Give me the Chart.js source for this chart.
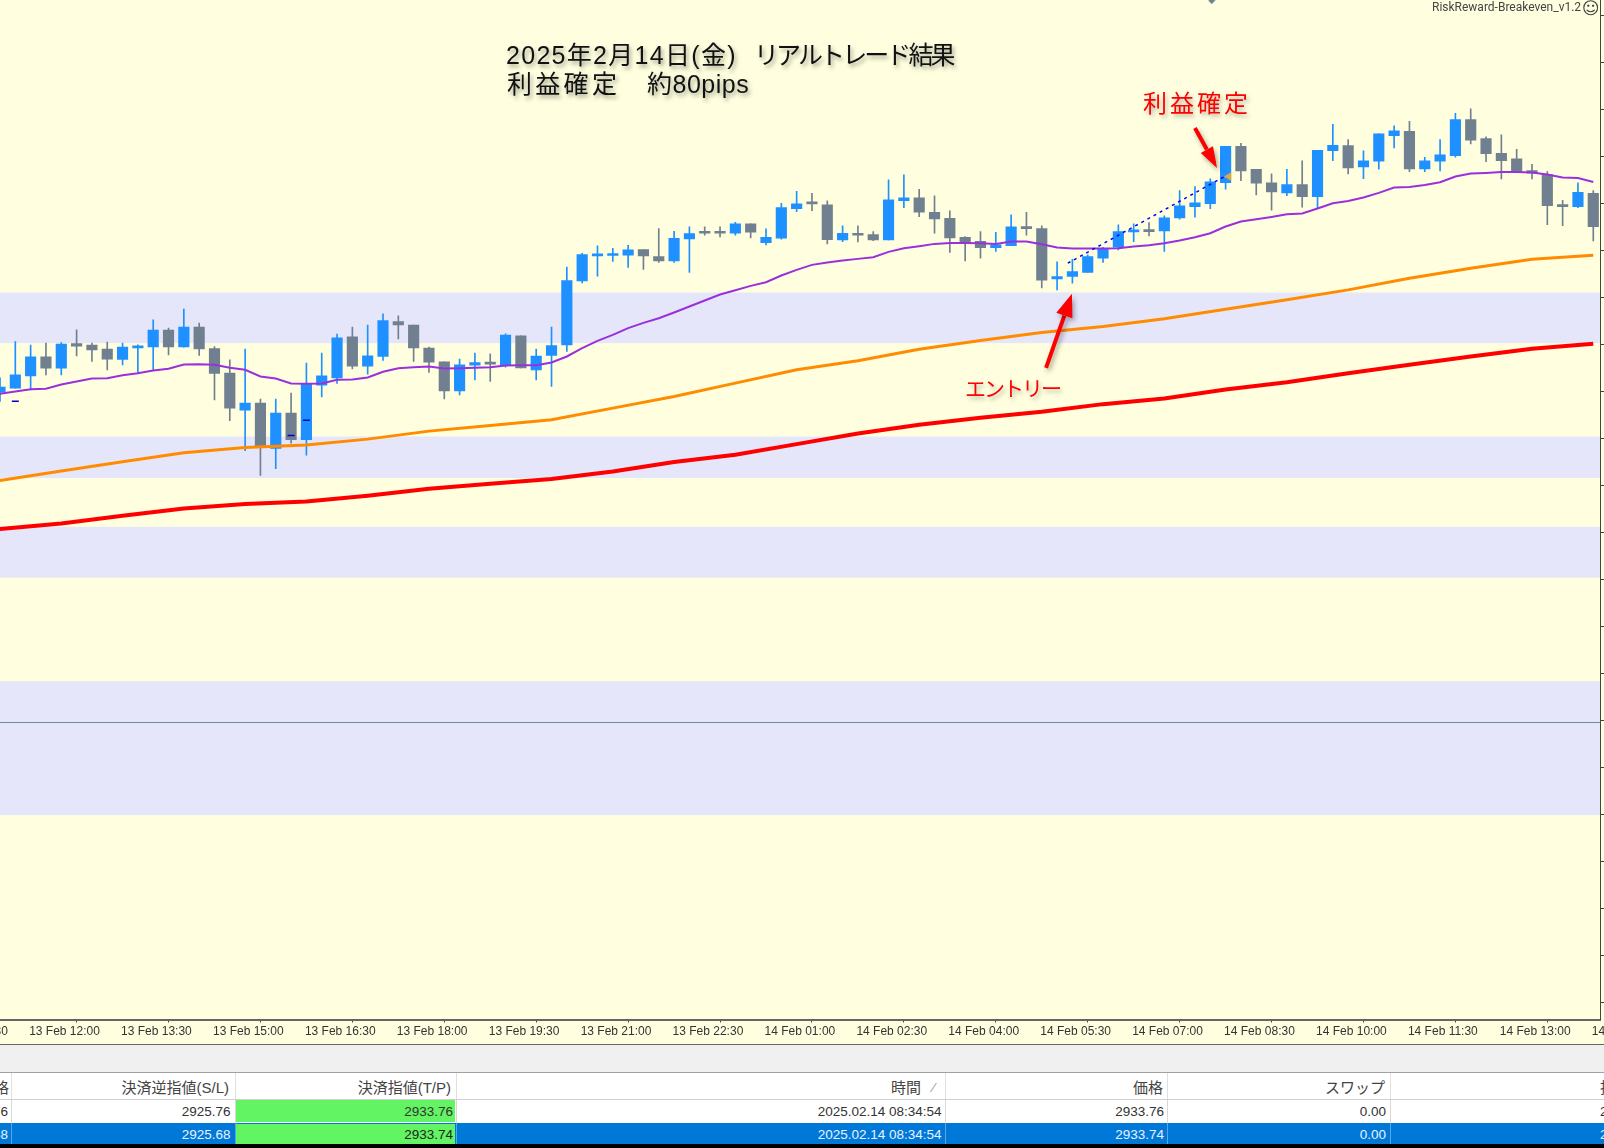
<!DOCTYPE html>
<html lang="ja">
<head>
<meta charset="utf-8">
<title>2025年2月14日 リアルトレード結果</title>
<script src="https://cdn.jsdelivr.net/npm/chart.js@4"></script>
<style>
html, body { margin: 0; width: 1604px; height: 1148px; overflow: hidden; background: #FFFFE0; }
#stage { position: absolute; left: 0; top: 0; width: 1604px; height: 1148px; overflow: hidden; }
#chart { position: absolute; left: -100px; top: 0; }
.note { position: absolute; white-space: pre; font-family: "Liberation Sans", "Noto Sans CJK JP", sans-serif; }
.title { font-size: 25px; line-height: 28px; color: #111; text-shadow: 2px 3px 4px rgba(0,0,0,.38); }
.red { color: #f00; text-shadow: 2px 3px 4px rgba(0,0,0,.3); }
#footer { position: absolute; left: 0; top: 1044px; width: 1604px; height: 104px; background: #fff; font-family: "Liberation Sans", "Noto Sans CJK JP", sans-serif; color: #333; }
.cell { position: absolute; white-space: pre; font-size: 13.5px; line-height: 22px; }
.head { font-size: 15px; }
.box { position: absolute; }
</style>
</head>
<body>
<div id="stage">
<canvas id="chart" width="1704" height="1044"></canvas>
<div class="note title" style="left:506px;top:41px;letter-spacing:1.3px">2025年2月14日(金)</div>
<div class="note title" style="left:754px;top:41px;letter-spacing:-2.9px">リアルトレード結果</div>
<div class="note title" style="left:507px;top:70px;letter-spacing:3.3px">利益確定</div>
<div class="note title" style="left:647px;top:70px;letter-spacing:.5px">約80pips</div>
<div class="note red" style="left:1143px;top:87px;font-size:24px;line-height:34px;letter-spacing:3px">利益確定</div>
<div class="note red" style="left:965px;top:373px;font-size:21px;line-height:32px;letter-spacing:-2px">エントリー</div>
<div class="note" style="left:1432px;top:0;font:12px/14px Roboto,sans-serif;color:#444">RiskReward-Breakeven_v1.2</div>
<div class="note" style="left:1582px;top:-2px;font:17px/20px 'DejaVu Sans',sans-serif;color:#444">☺</div>
<div id="footer"></div>
</div>
<script>
// 15 minute bars, bar 0 = 13 Feb 11:30
const barOpen = [
  2914.29, 2914.65, 2915.76, 2917.47, 2916.45, 2918.67, 2918.52, 2918.16, 2917.23, 2918.28,
  2918.37, 2919.87, 2918.37, 2920.14, 2918.22, 2916.00, 2912.67, 2913.30, 2909.22, 2912.40,
  2910.00, 2914.92, 2915.58, 2919.27, 2916.63, 2917.50, 2920.65, 2920.32, 2918.25, 2917.02,
  2914.41, 2916.72, 2916.96, 2916.69, 2919.36, 2916.30, 2917.59, 2918.55, 2924.31, 2926.56,
  2926.59, 2926.62, 2927.13, 2926.50, 2926.11, 2928.09, 2928.69, 2928.69, 2928.60, 2929.44,
  2927.76, 2928.15, 2930.82, 2931.33, 2931.15, 2928.00, 2928.51, 2928.48, 2928.00, 2931.54,
  2931.78, 2930.49, 2929.95, 2928.24, 2927.88, 2927.31, 2927.49, 2929.17, 2929.02, 2924.49,
  2924.70, 2925.06, 2926.35, 2927.34, 2928.72, 2928.84, 2928.81, 2929.98, 2931.00, 2931.27,
  2933.16, 2936.43, 2934.36, 2933.13, 2932.23, 2932.98, 2931.90, 2936.04, 2936.49, 2934.57,
  2935.08, 2937.39, 2937.78, 2934.39, 2935.08, 2935.59, 2938.83, 2937.12, 2935.80, 2935.29,
  2934.24, 2933.88, 2931.15, 2931.00, 2932.20
];
const barClose = [
  2914.74, 2915.85, 2917.47, 2916.45, 2918.61, 2918.43, 2918.10, 2917.26, 2918.34, 2918.43,
  2919.87, 2918.37, 2920.14, 2918.19, 2915.97, 2912.85, 2913.30, 2909.37, 2912.40, 2910.00,
  2915.04, 2915.76, 2919.18, 2916.63, 2917.56, 2920.74, 2920.35, 2918.28, 2916.99, 2914.41,
  2916.75, 2916.96, 2916.81, 2919.42, 2916.48, 2917.53, 2918.49, 2924.34, 2926.68, 2926.68,
  2926.71, 2927.10, 2926.56, 2926.11, 2928.15, 2928.57, 2928.60, 2928.60, 2929.44, 2928.69,
  2928.24, 2930.91, 2931.24, 2931.24, 2928.03, 2928.60, 2928.42, 2928.00, 2931.60, 2931.78,
  2930.49, 2929.89, 2928.18, 2927.70, 2927.31, 2927.55, 2929.17, 2929.02, 2924.37, 2924.70,
  2925.15, 2926.50, 2927.16, 2928.75, 2928.84, 2928.75, 2929.98, 2931.06, 2931.33, 2933.22,
  2936.43, 2934.21, 2933.10, 2932.32, 2932.98, 2931.90, 2936.07, 2936.52, 2934.48, 2935.11,
  2937.54, 2937.81, 2934.39, 2935.11, 2935.65, 2938.83, 2936.97, 2935.77, 2935.14, 2934.15,
  2934.00, 2931.09, 2931.00, 2932.29, 2929.20
];
const barHigh = [
  2915.58, 2918.85, 2918.52, 2918.70, 2918.76, 2919.90, 2918.70, 2918.79, 2918.70, 2918.55,
  2920.80, 2920.05, 2921.76, 2920.50, 2918.40, 2917.20, 2918.16, 2913.66, 2913.66, 2914.20,
  2916.90, 2917.80, 2919.51, 2920.14, 2920.32, 2921.34, 2921.16, 2920.32, 2918.34, 2917.02,
  2917.26, 2917.80, 2917.74, 2919.54, 2919.36, 2918.16, 2920.14, 2925.54, 2926.80, 2927.46,
  2927.25, 2927.52, 2927.13, 2929.02, 2928.78, 2929.17, 2929.17, 2929.17, 2929.59, 2929.44,
  2928.99, 2931.30, 2932.38, 2932.20, 2931.51, 2929.26, 2929.26, 2928.75, 2933.40, 2933.85,
  2932.56, 2931.96, 2930.61, 2928.30, 2928.75, 2928.69, 2930.25, 2930.49, 2929.26, 2926.02,
  2926.26, 2926.65, 2927.34, 2929.35, 2929.44, 2929.56, 2930.16, 2932.44, 2932.80, 2933.49,
  2936.43, 2936.70, 2934.36, 2933.94, 2934.36, 2935.11, 2936.07, 2938.41, 2937.03, 2936.01,
  2937.54, 2938.26, 2938.68, 2935.44, 2937.03, 2939.40, 2939.79, 2937.27, 2937.45, 2936.16,
  2934.81, 2934.15, 2931.57, 2933.13, 2932.44
];
const barLow = [
  2913.45, 2914.65, 2914.50, 2915.85, 2915.85, 2917.56, 2917.05, 2916.30, 2916.75, 2916.00,
  2916.30, 2917.65, 2918.34, 2917.59, 2913.60, 2911.71, 2909.01, 2906.79, 2907.39, 2909.70,
  2908.62, 2913.87, 2915.07, 2916.39, 2915.91, 2917.14, 2919.09, 2917.05, 2916.06, 2913.69,
  2914.05, 2915.40, 2915.25, 2916.54, 2916.48, 2915.40, 2914.80, 2917.95, 2924.13, 2924.73,
  2926.05, 2925.51, 2925.33, 2925.96, 2925.96, 2925.06, 2928.42, 2928.27, 2928.42, 2928.18,
  2927.55, 2928.06, 2930.55, 2930.64, 2927.64, 2927.85, 2927.82, 2927.94, 2928.00, 2930.91,
  2930.10, 2928.60, 2926.86, 2926.11, 2926.35, 2926.95, 2927.49, 2928.42, 2923.68, 2923.50,
  2924.10, 2925.06, 2925.96, 2927.10, 2927.85, 2928.36, 2926.95, 2929.86, 2930.04, 2930.82,
  2932.56, 2933.34, 2932.05, 2930.67, 2931.99, 2930.94, 2930.85, 2935.14, 2933.94, 2933.52,
  2934.36, 2936.28, 2934.15, 2934.15, 2934.21, 2935.44, 2936.64, 2935.05, 2933.49, 2934.15,
  2933.49, 2929.38, 2929.29, 2930.91, 2927.91
];

// fast moving average, one value per bar starting at bar -1
const purpleMA = [
  2913.96,
  2914.14, 2914.35, 2914.56, 2914.59, 2914.98, 2915.25, 2915.52, 2915.55, 2915.82, 2916.00,
  2916.24, 2916.39, 2916.78, 2916.81, 2916.75, 2916.48, 2916.30, 2915.70, 2915.52, 2915.07,
  2915.04, 2915.07, 2915.40, 2915.43, 2915.61, 2916.12, 2916.45, 2916.54, 2916.60, 2916.42,
  2916.45, 2916.48, 2916.54, 2916.69, 2916.72, 2916.72, 2916.96, 2917.50, 2918.25, 2918.91,
  2919.45, 2920.05, 2920.53, 2920.95, 2921.46, 2922.00, 2922.54, 2923.08, 2923.47, 2923.86,
  2924.19, 2924.79, 2925.30, 2925.75, 2925.96, 2926.14, 2926.29, 2926.44, 2926.92, 2927.25,
  2927.43, 2927.64, 2927.73, 2927.73, 2927.70, 2927.64, 2927.85, 2927.85, 2927.61, 2927.31,
  2927.22, 2927.22, 2927.22, 2927.25, 2927.40, 2927.52, 2927.70, 2927.94, 2928.24, 2928.60,
  2929.20, 2929.65, 2929.86, 2930.07, 2930.31, 2930.37, 2930.82, 2931.30, 2931.51, 2931.81,
  2932.23, 2932.71, 2932.77, 2932.95, 2933.19, 2933.70, 2933.97, 2934.03, 2934.12, 2934.12,
  2934.06, 2933.88, 2933.61, 2933.58, 2933.22
];
// slow averages, read every 4 bars from bar -4
const orangeMA = [
  2905.50, 2906.34, 2907.18, 2908.02, 2908.83, 2909.31, 2909.52, 2910.06, 2910.78, 2911.29,
  2911.80, 2912.85, 2913.90, 2915.10, 2916.30, 2917.11, 2918.16, 2918.94, 2919.66, 2920.20,
  2920.89, 2921.76, 2922.60, 2923.50, 2924.55, 2925.45, 2926.26, 2926.62
];
const redMA = [
  2901.27, 2901.96, 2902.47, 2903.16, 2903.82, 2904.21, 2904.45, 2904.96, 2905.59, 2906.04,
  2906.46, 2907.15, 2907.99, 2908.65, 2909.61, 2910.57, 2911.35, 2911.98, 2912.52, 2913.21,
  2913.72, 2914.53, 2915.19, 2916.00, 2916.75, 2917.50, 2918.19, 2918.64
];

// price zones (top, bottom)
const zoneTop = [2923.26, 2910.30, 2902.17, 2888.26];
const zoneBottom = [2918.70, 2906.55, 2897.58, 2876.20];
const bidLine = 2884.62;

// trade: [bar, price]
const tradeLine = [[69.7, 2925.90], [80.0, 2933.76]];
const tradeMarks = [[1, 2913.48], [19, 2910.39], [20, 2911.77]];
const exitMark = [[80.2, 2933.70]];
const topMark = [[79.1, 2949.55]];
const entryArrow = [[68.28, 2916.48], [69.97, 2923.14]];
const exitArrow = [[78.0, 2938.08], [79.44, 2934.48]];

const tickBars = [-4, 2, 8, 14, 20, 26, 32, 38, 44, 50, 56, 62, 68, 74, 80, 86, 92, 98, 104];
const tickLabels = [
  '13 Feb 10:30', '13 Feb 12:00', '13 Feb 13:30', '13 Feb 15:00', '13 Feb 16:30', '13 Feb 18:00',
  '13 Feb 19:30', '13 Feb 21:00', '13 Feb 22:30', '14 Feb 01:00', '14 Feb 02:30', '14 Feb 04:00',
  '14 Feb 05:30', '14 Feb 07:00', '14 Feb 08:30', '14 Feb 10:00', '14 Feb 11:30', '14 Feb 13:00',
  '14 Feb 14:30'
];
const priceTicks = [
  2948.16, 2943.93, 2939.70, 2935.47, 2931.24, 2927.01, 2922.78, 2918.55, 2914.32, 2910.09, 2905.86,
  2901.63, 2897.40, 2893.17, 2888.94, 2884.71, 2880.48, 2876.25, 2872.02, 2867.79, 2863.56, 2859.33
];

// table below the chart
const tableEdges = [11, 234.5, 455.5, 945, 1167, 1390];
const tableHeads = ['価格', '決済逆指値(S/L)', '決済指値(T/P)', '時間', '価格', 'スワップ'];
const headRights = [9, 229, 451, 921, 1163, 1385];
const row1 = ['2933.76', '2925.76', '2933.76', '2025.02.14 08:34:54', '2933.76', '0.00'];
const row2 = ['2933.68', '2925.68', '2933.74', '2025.02.14 08:34:54', '2933.74', '0.00'];
const cellRights = [8, 230.5, 453, 941.5, 1164, 1386];

const UP = '#1E90FF', DOWN = '#708090';
const barColor = barOpen.map((o, i) => barClose[i] >= o ? UP : DOWN);
const everyFourth = i => -4 + i * 4;

function drawArrow(ctx, scales, pts, head, half) {
  const x0 = scales.x.getPixelForValue(pts[0][0]), y0 = scales.y.getPixelForValue(pts[0][1]);
  const x1 = scales.x.getPixelForValue(pts[1][0]), y1 = scales.y.getPixelForValue(pts[1][1]);
  const a = Math.atan2(y1 - y0, x1 - x0);
  const bx = x1 - Math.cos(a) * head, by = y1 - Math.sin(a) * head;
  ctx.strokeStyle = ctx.fillStyle = '#f00';
  ctx.lineWidth = 4;
  ctx.beginPath();
  ctx.moveTo(x0, y0);
  ctx.lineTo(bx, by);
  ctx.stroke();
  ctx.beginPath();
  ctx.moveTo(x1, y1);
  ctx.lineTo(bx - Math.sin(a) * half, by + Math.cos(a) * half);
  ctx.lineTo(bx + Math.sin(a) * half, by - Math.cos(a) * half);
  ctx.closePath();
  ctx.fill();
}

const zonesPlugin = {
  id: 'zones',
  beforeDatasetsDraw(chart) {
    const { ctx, chartArea, scales } = chart;
    ctx.save();
    ctx.fillStyle = '#E6E6FA';
    zoneTop.forEach((t, i) => {
      const y0 = scales.y.getPixelForValue(t), y1 = scales.y.getPixelForValue(zoneBottom[i]);
      ctx.fillRect(chartArea.left, y0, chartArea.width, y1 - y0);
    });
    const by = Math.round(scales.y.getPixelForValue(bidLine)) + 0.5;
    ctx.strokeStyle = '#778899';
    ctx.lineWidth = 1;
    ctx.beginPath();
    ctx.moveTo(chartArea.left, by);
    ctx.lineTo(chartArea.right, by);
    ctx.stroke();
    ctx.restore();
  },
  afterDatasetsDraw(chart) {
    const { ctx, scales } = chart;
    ctx.save();
    ctx.shadowColor = 'rgba(0,0,0,.35)';
    ctx.shadowBlur = 5;
    ctx.shadowOffsetX = 2;
    ctx.shadowOffsetY = 3;
    drawArrow(ctx, scales, entryArrow, 23, 8.5);
    drawArrow(ctx, scales, exitArrow, 21, 7);
    ctx.restore();
  }
};

new Chart(document.getElementById('chart'), {
  type: 'bar',
  plugins: [zonesPlugin],
  data: {
    datasets: [
      {
        label: 'body', order: 3, grouped: false, barThickness: 10.5, minBarLength: 2,
        data: barOpen.map((o, i) => ({ x: i, y: [o, barClose[i]] })),
        backgroundColor: barColor
      },
      {
        label: 'wick', order: 4, grouped: false, barThickness: 1,
        data: barLow.map((l, i) => ({ x: i, y: [l, barHigh[i]] })),
        backgroundColor: barColor
      },
      {
        type: 'line', label: 'MA fast', order: 2, borderColor: '#9A30DD', borderWidth: 2, pointRadius: 0,
        data: purpleMA.map((v, i) => ({ x: i - 1, y: v }))
      },
      {
        type: 'line', label: 'MA mid', order: 2, borderColor: '#FF8C00', borderWidth: 3, pointRadius: 0,
        data: orangeMA.map((v, i) => ({ x: everyFourth(i), y: v }))
      },
      {
        type: 'line', label: 'MA slow', order: 2, borderColor: '#FF0000', borderWidth: 4, pointRadius: 0,
        data: redMA.map((v, i) => ({ x: everyFourth(i), y: v }))
      },
      {
        type: 'line', label: 'trade', order: 1, borderColor: '#0000FF', borderWidth: 1.5, borderDash: [3, 4], pointRadius: 0,
        data: tradeLine.map(p => ({ x: p[0], y: p[1] }))
      },
      {
        type: 'scatter', label: 'deals', order: 1, pointStyle: 'line', pointRadius: 3.5, borderColor: '#0000CD', borderWidth: 1.5,
        data: tradeMarks.map(p => ({ x: p[0], y: p[1] }))
      },
      {
        type: 'scatter', label: 'exit', order: 0, pointStyle: 'triangle', rotation: -90, pointRadius: 4,
        backgroundColor: '#E5A63B', borderColor: '#E5A63B',
        data: exitMark.map(p => ({ x: p[0], y: p[1] }))
      },
      {
        type: 'scatter', label: 'mark', order: 0, pointStyle: 'rectRot', pointRadius: 3,
        backgroundColor: '#708090', borderColor: '#708090',
        data: topMark.map(p => ({ x: p[0], y: p[1] }))
      }
    ]
  },
  options: {
    responsive: false,
    animation: false,
    events: [],
    layout: { padding: 0, autoPadding: false },
    plugins: { legend: { display: false }, tooltip: { enabled: false } },
    scales: {
      x: {
        type: 'linear',
        min: -100 / 15.32,
        max: 1600 / 15.32,
        offset: false,
        afterBuildTicks: s => { s.ticks = tickBars.map(v => ({ value: v })); },
        afterFit: s => { s.height = 24.5; s.paddingLeft = 0; s.paddingRight = 0; },
        border: { color: '#666', width: 2 },
        grid: { drawOnChartArea: false, tickLength: 3, color: '#444' },
        ticks: {
          autoSkip: false, maxRotation: 0, align: 'start', padding: 2, labelOffset: -1.5, color: '#333',
          font: { family: 'Liberation Sans', size: 12 },
          callback: v => tickLabels[tickBars.indexOf(v)]
        }
      },
      y: {
        position: 'right',
        min: 2857.8,
        max: 2949.6,
        afterBuildTicks: s => { s.ticks = priceTicks.map(v => ({ value: v })); },
        afterFit: s => { s.width = 4; s.paddingTop = 0; s.paddingBottom = 0; },
        border: { color: '#444', width: 1 },
        grid: { drawOnChartArea: false, tickLength: 4, color: '#444' },
        ticks: { display: false }
      }
    }
  }
});

// --- bottom panel, plain DOM ---
const footer = document.getElementById('footer');
function box(left, top, w, h, color) {
  const el = document.createElement('div');
  el.className = 'box';
  el.style.cssText = `left:${left}px;top:${top}px;width:${w}px;height:${h}px;background:${color}`;
  footer.appendChild(el);
}
function cell(text, right, top, color, left, cls) {
  const el = document.createElement('div');
  el.className = cls ? 'cell ' + cls : 'cell';
  el.textContent = text;
  el.style.top = top + 'px';
  el.style.color = color;
  if (left !== undefined) el.style.left = left + 'px';
  else el.style.right = (1604 - right) + 'px';
  footer.appendChild(el);
}
box(0, 0, 1604, 1, '#666');
box(0, 1, 1604, 27, '#F0F0F0');
box(0, 28, 1604, 1, '#A0A0A0');
box(0, 55, 1604, 1, '#D0D0D0');
box(0, 79, 1604, 21, '#0078D7');
box(235, 56, 219.5, 22, '#62F462');
box(235, 80, 219.5, 20, '#62F462');
box(0, 100, 1604, 4, '#000');
tableEdges.forEach(x => {
  box(x, 29, 1, 26, '#E0E0E0');
  box(x, 56, 1, 23, '#D8D8D8');
  box(x, 79, 1, 21, '#5AA5E5');
});
tableHeads.forEach((h, i) => cell(h, headRights[i], 33, '#444', undefined, 'head'));
cell('⁄', 935, 33, '#999');
cell('損益', 0, 33, '#444', 1600, 'head');
row1.forEach((v, i) => cell(v, cellRights[i], 57, '#333'));
row2.forEach((v, i) => cell(v, cellRights[i], 80, i === 2 ? '#222' : '#EAF3FF'));
cell('2', 0, 57, '#333', 1600);
cell('2', 0, 80, '#EAF3FF', 1600);
</script>
</body>
</html>
